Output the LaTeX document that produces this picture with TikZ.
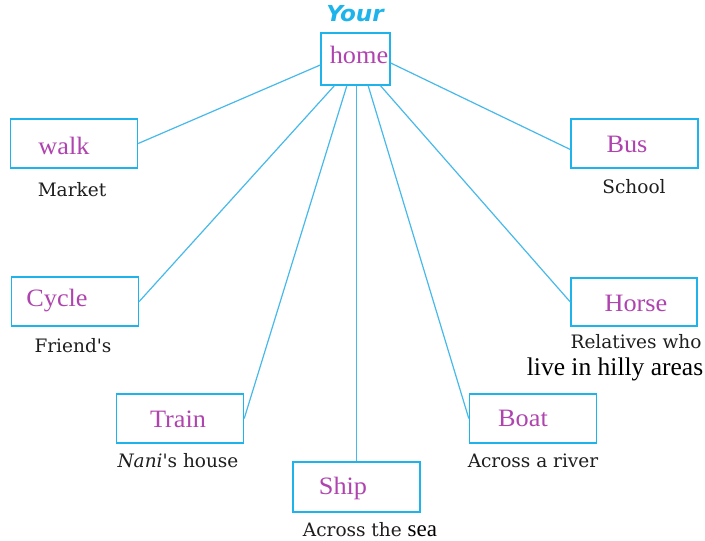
\documentclass[tikz,border=0pt]{standalone}
\usepackage{fontspec}
\setmainfont{Liberation Serif}
\newfontfamily\capfont{DejaVu Serif}
\newfontfamily\yourfont{DejaVu Sans}
\usetikzlibrary{calc}
\definecolor{boxblue}{RGB}{30,180,235}
\definecolor{linkblue}{RGB}{70,185,235}
\definecolor{labmag}{RGB}{175,68,175}
\definecolor{capgray}{RGB}{30,30,30}
\tikzset{
  box/.style={draw=boxblue, line width=1.4pt, minimum width=127pt, minimum height=49pt, inner sep=0pt},
  lab/.style={text=labmag, font=\fontsize{25}{28}\selectfont, inner sep=0pt, xscale=1.05},
  captext/.style={text=capgray, font=\capfont\fontsize{18.5}{20}\selectfont, inner sep=0pt},
  link/.style={draw=linkblue, line width=1.2pt},
}
\begin{document}
\begin{tikzpicture}[x=1pt,y=-1pt]
\useasboundingbox (0,0) rectangle (705,541);
% boxes
\node[box, minimum width=69pt, minimum height=52pt] (home) at (355.5,59) {};
\node[box] (walk) at (74,143.5) {};
\node[box] (bus) at (634.5,143.5) {};
\node[box] (cycle) at (75,301.5) {};
\node[box, minimum width=126pt, minimum height=48pt] (horse) at (634,302) {};
\node[box] (train) at (180,418.5) {};
\node[box, minimum height=50pt] (ship) at (356.5,487) {};
\node[box] (boat) at (533,418.5) {};
% labels in boxes
\node[lab] (lhome) at (359,55) {home};
\node[lab] (lwalk) at (64,146) {walk};
\node[lab] (lbus) at (627,144) {Bus};
\node[lab] (lcycle) at (57,301) {Cycle};
\node[lab] (lhorse) at (636,303) {Horse};
\node[lab] (ltrain) at (178,419) {Train};
\node[lab] (lship) at (343,488) {Ship};
\node[lab] (lboat) at (523,418) {Boat};
% title
\node[text=boxblue, font=\yourfont\bfseries\itshape\fontsize{22}{24}\selectfont, inner sep=0pt, xscale=1.05] (your) at (355,14) {Your};
% captions
\node[captext] (cmarket) at (72,190) {Market};
\node[captext] (cschool) at (634,187) {School};
\node[captext] (cfriend) at (73,346) {Friend's};
\node[captext] (crel) at (636,342) {Relatives who};
\node[text=black, font=\fontsize{25.5}{28}\selectfont, inner sep=0pt] (chilly) at (615,369) {live in hilly areas};
\node[captext] (cnani) at (178,461) {\textit{Nani}'s house};
\node[captext] (criver) at (533,461) {Across a river};
\node[captext] (csea) at (370,530) {Across the {\rmfamily\fontsize{23}{25}\selectfont\color{black}sea}};
% connectors
\coordinate (hb1) at ($(home.south west)!0.2!(home.south east)$);
\coordinate (hb2) at ($(home.south west)!0.377!(home.south east)$);
\coordinate (hb4) at ($(home.south west)!0.68!(home.south east)$);
\coordinate (hb5) at ($(home.south west)!0.855!(home.south east)$);
\draw[link] ($(home.west)+(0,6)$) -- (walk.east);
\draw[link] ($(home.east)+(0,4)$) -- ($(bus.west)+(0,6)$);
\draw[link] (hb1) -- (cycle.east);
\draw[link] (hb2) -- (train.east);
\draw[link] (home.south -| ship.north) -- (ship.north);
\draw[link] (hb4) -- (boat.west);
\draw[link] (hb5) -- (horse.west);
\end{tikzpicture}
\end{document}
